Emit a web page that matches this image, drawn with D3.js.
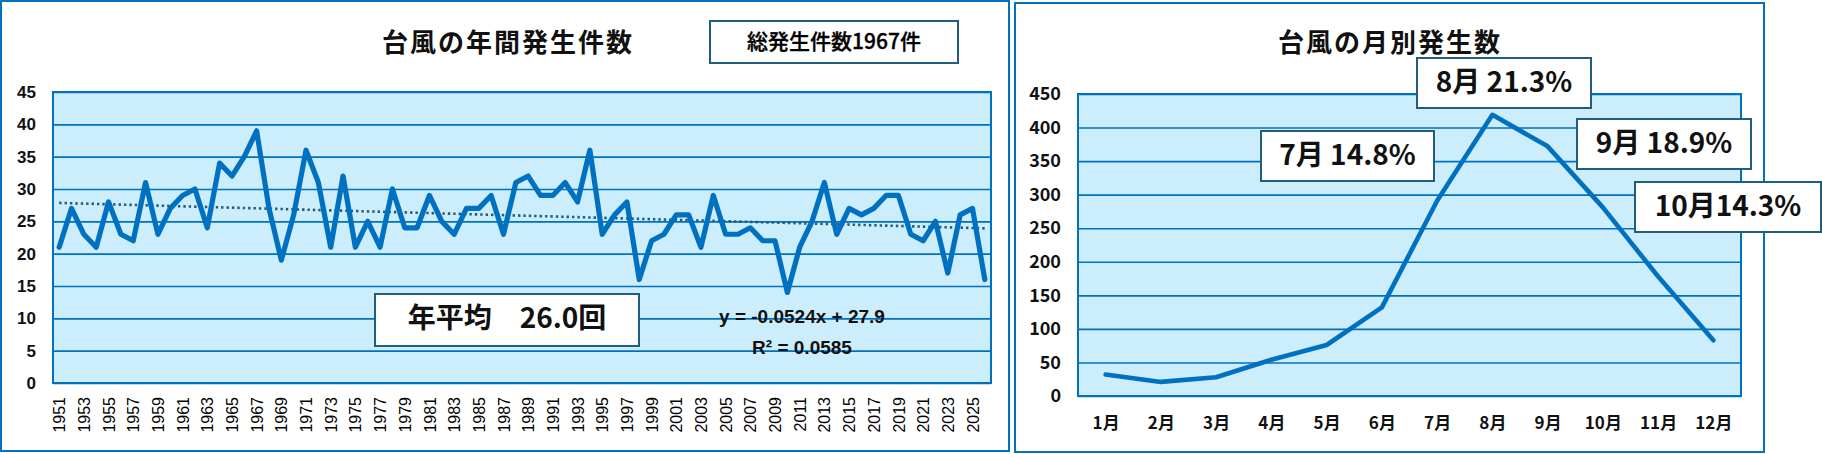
<!DOCTYPE html>
<html>
<head>
<meta charset="utf-8">
<script src="https://cdn.jsdelivr.net/npm/d3@7"></script>
<style>
  body { margin: 0; background: #fff; }
  svg { display: block; }
</style>
</head>
<body>
<svg id="chart" width="1822" height="454"></svg>
<script>
// data
var years = d3.range(1951, 2027);
var typhoonCounts = [
    21, 27, 23, 21, 28, 23, 22, 31, 23, 27,
    29, 30, 24, 34, 32, 35, 39, 27, 19, 26,
    36, 31, 21, 32, 21, 25, 21, 30, 24, 24,
    29, 25, 23, 27, 27, 29, 23, 31, 32, 29,
    29, 31, 28, 36, 23, 26, 28, 16, 22, 23,
    26, 26, 21, 29, 23, 23, 24, 22, 22, 14,
    21, 25, 31, 23, 27, 26, 27, 29, 29, 23,
    22, 25, 17, 26, 27, 16
];
var yearTicks = years.filter(function (d, i) { return i % 2 === 0; });
var countTicks = [0, 5, 10, 15, 20, 25, 30, 35, 40, 45];
var trendSlope = -0.0524, trendIntercept = 27.9;
var trendText = ['y = -0.0524x + 27.9', 'R² = 0.0585'];
var totalText = '総発生件数1967件';
var averageText = '年平均\u300026.0回';

var months = ['1月', '2月', '3月', '4月', '5月', '6月', '7月', '8月', '9月', '10月', '11月', '12月'];
var monthCounts = [32, 21, 28, 54, 76, 132, 291, 419, 372, 281, 178, 83];
var monthTicks = [0, 50, 100, 150, 200, 250, 300, 350, 400, 450];
var shareLabels = ['7月 14.8%', '8月 21.3%', '9月 18.9%', '10月14.3%'];

var blue = '#0070C0',
    plotFill = '#CCEDFB',
    boxStroke = '#215E7E',
    cjk = '"Noto Sans CJK JP", "Noto Sans", sans-serif',
    latin = '"Liberation Sans", Arial, sans-serif';

var svg = d3.select('#chart');

// panel frames
svg.append('rect').attr('x', 1).attr('y', 1).attr('width', 1008).attr('height', 450)
    .attr('fill', 'none').attr('stroke', blue).attr('stroke-width', 2);
svg.append('rect').attr('x', 1015).attr('y', 3).attr('width', 749).attr('height', 449)
    .attr('fill', 'none').attr('stroke', blue).attr('stroke-width', 2);

/////////////////////////////////
// left: yearly counts
/////////////////////////////////
var L = { left: 53, right: 991, top: 92, bottom: 383 };

var x1 = d3.scalePoint().domain(years).range([L.left, L.right]).padding(0.5);
var y1 = d3.scaleLinear().domain([0, 45]).range([L.bottom, L.top]);

var g1 = svg.append('g');

g1.append('rect')
    .attr('x', L.left).attr('y', L.top)
    .attr('width', L.right - L.left).attr('height', L.bottom - L.top)
    .attr('fill', plotFill);

// grid lines
g1.append('g')
    .attr('transform', 'translate(' + L.left + ',0)')
    .call(d3.axisLeft(y1).tickValues(countTicks).tickSize(-(L.right - L.left)).tickFormat(''))
    .call(function (g) { g.select('.domain').remove(); })
    .selectAll('line').attr('stroke', blue).attr('stroke-width', 1.6);

g1.append('rect')
    .attr('x', L.left).attr('y', L.top)
    .attr('width', L.right - L.left).attr('height', L.bottom - L.top)
    .attr('fill', 'none').attr('stroke', blue).attr('stroke-width', 2);

// y labels
g1.append('g')
    .attr('transform', 'translate(36,0)')
    .call(d3.axisLeft(y1).tickValues(countTicks).tickSize(0).tickPadding(0))
    .call(function (g) { g.select('.domain').remove(); })
    .selectAll('text')
    .attr('font-family', latin).attr('font-size', 17).attr('font-weight', 'bold').attr('fill', '#111');

// x labels
g1.append('g')
    .attr('transform', 'translate(0,' + L.bottom + ')')
    .call(d3.axisBottom(x1).tickValues(yearTicks).tickSize(0).tickPadding(0))
    .call(function (g) { g.select('.domain').remove(); })
    .selectAll('text')
    .attr('font-family', latin).attr('font-size', 16).attr('fill', '#000')
    .attr('text-anchor', 'end')
    .attr('transform', 'rotate(-90)')
    .attr('x', -14).attr('y', 0).attr('dy', '0.35em');

// trend line
var trendLine = d3.line()
    .x(function (d) { return x1(d); })
    .y(function (d) { return y1(trendSlope * (years.indexOf(d) + 1) + trendIntercept); });
g1.append('path')
    .datum([years[0], years[years.length - 1]])
    .attr('d', trendLine)
    .attr('fill', 'none').attr('stroke', '#245C7C').attr('stroke-width', 2.6)
    .attr('stroke-dasharray', '2.4,3');

// series
var line1 = d3.line()
    .x(function (d, i) { return x1(years[i]); })
    .y(function (d) { return y1(d); });
g1.append('path')
    .datum(typhoonCounts)
    .attr('d', line1)
    .attr('fill', 'none').attr('stroke', blue).attr('stroke-width', 5.2)
    .attr('stroke-linejoin', 'round').attr('stroke-linecap', 'round');

// title and boxes
g1.append('text')
    .attr('x', 508).attr('y', 52).attr('text-anchor', 'middle')
    .attr('font-family', cjk).attr('font-size', 26).attr('font-weight', 'bold')
    .attr('letter-spacing', 2).attr('fill', '#111')
    .text('台風の年間発生件数');

g1.append('rect').attr('x', 710).attr('y', 21).attr('width', 248).attr('height', 42)
    .attr('fill', '#fff').attr('stroke', boxStroke).attr('stroke-width', 2);
g1.append('text')
    .attr('x', 834).attr('y', 49).attr('text-anchor', 'middle')
    .attr('font-family', cjk).attr('font-size', 21).attr('font-weight', 500).attr('fill', '#000')
    .attr('stroke', '#000').attr('stroke-width', 0.35)
    .text(totalText);

g1.append('rect').attr('x', 375).attr('y', 294).attr('width', 264).attr('height', 52)
    .attr('fill', '#fff').attr('stroke', boxStroke).attr('stroke-width', 2);
g1.append('text')
    .attr('x', 507).attr('y', 328).attr('text-anchor', 'middle')
    .attr('font-family', cjk).attr('font-size', 28).attr('font-weight', 'bold').attr('fill', '#111')
    .text(averageText);

g1.selectAll('.trend-text')
    .data(trendText)
    .enter().append('text')
    .attr('class', 'trend-text')
    .attr('x', 802).attr('y', function (d, i) { return 323 + i * 31; })
    .attr('text-anchor', 'middle')
    .attr('font-family', latin).attr('font-size', 19).attr('font-weight', 'bold').attr('fill', '#111')
    .text(function (d) { return d; });

/////////////////////////////////
// right: monthly counts
/////////////////////////////////
var R = { left: 1078, right: 1741, top: 94, bottom: 396 };

var x2 = d3.scalePoint().domain(months).range([R.left, R.right]).padding(0.5);
var y2 = d3.scaleLinear().domain([0, 450]).range([R.bottom, R.top]);

var g2 = svg.append('g');

g2.append('rect')
    .attr('x', R.left).attr('y', R.top)
    .attr('width', R.right - R.left).attr('height', R.bottom - R.top)
    .attr('fill', plotFill);

g2.append('g')
    .attr('transform', 'translate(' + R.left + ',0)')
    .call(d3.axisLeft(y2).tickValues(monthTicks).tickSize(-(R.right - R.left)).tickFormat(''))
    .call(function (g) { g.select('.domain').remove(); })
    .selectAll('line').attr('stroke', blue).attr('stroke-width', 1.6);

g2.append('rect')
    .attr('x', R.left).attr('y', R.top)
    .attr('width', R.right - R.left).attr('height', R.bottom - R.top)
    .attr('fill', 'none').attr('stroke', blue).attr('stroke-width', 2);

g2.append('g')
    .attr('transform', 'translate(1061,0)')
    .call(d3.axisLeft(y2).tickValues(monthTicks).tickSize(0).tickPadding(0))
    .call(function (g) { g.select('.domain').remove(); })
    .selectAll('text')
    .attr('font-family', cjk).attr('font-size', 18).attr('font-weight', 'bold').attr('fill', '#111');

g2.append('g')
    .attr('transform', 'translate(0,' + R.bottom + ')')
    .call(d3.axisBottom(x2).tickSize(0).tickPadding(0))
    .call(function (g) { g.select('.domain').remove(); })
    .selectAll('text')
    .attr('font-family', cjk).attr('font-size', 17).attr('font-weight', 'bold').attr('fill', '#111')
    .attr('y', 33).attr('dy', 0);

var line2 = d3.line()
    .x(function (d, i) { return x2(months[i]); })
    .y(function (d) { return y2(d); });
g2.append('path')
    .datum(monthCounts)
    .attr('d', line2)
    .attr('fill', 'none').attr('stroke', blue).attr('stroke-width', 4.6)
    .attr('stroke-linejoin', 'round').attr('stroke-linecap', 'round');

g2.append('text')
    .attr('x', 1390).attr('y', 52).attr('text-anchor', 'middle')
    .attr('font-family', cjk).attr('font-size', 26).attr('font-weight', 'bold')
    .attr('letter-spacing', 2).attr('fill', '#111')
    .text('台風の月別発生数');

// share boxes
var boxPos = [
    { x: 1261, y: 131, w: 173 },
    { x: 1417, y: 58, w: 174 },
    { x: 1577, y: 119, w: 174 },
    { x: 1635, y: 182, w: 186 }
];
var boxes = g2.selectAll('.share')
    .data(shareLabels)
    .enter().append('g')
    .attr('class', 'share')
    .attr('transform', function (d, i) { return 'translate(' + boxPos[i].x + ',' + boxPos[i].y + ')'; });
boxes.append('rect')
    .attr('width', function (d, i) { return boxPos[i].w; }).attr('height', 50)
    .attr('fill', '#fff').attr('stroke', boxStroke).attr('stroke-width', 2);
boxes.append('text')
    .attr('x', function (d, i) { return boxPos[i].w / 2; }).attr('y', 34)
    .attr('text-anchor', 'middle')
    .attr('font-family', cjk).attr('font-size', 28).attr('font-weight', 'bold').attr('fill', '#111')
    .text(function (d) { return d; });
</script>
</body>
</html>
